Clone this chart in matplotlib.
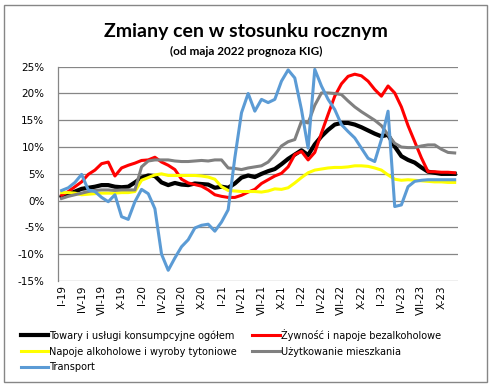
import matplotlib
matplotlib.use("Agg")
import matplotlib.pyplot as plt
from matplotlib.patches import Rectangle
from matplotlib.ticker import FuncFormatter

# monthly y/y changes, I-2019 .. XII-2023 (from May 2022 forecast)
roman = ["I", "II", "III", "IV", "V", "VI", "VII", "VIII", "IX", "X", "XI", "XII"]
years = ["19", "20", "21", "22", "23"]
months = [f"{m}-{y}" for y in years for m in roman]

towary = [0.7, 1.2, 1.7, 2.2, 2.4, 2.6, 2.9, 2.9, 2.6, 2.5, 2.6, 3.4,
          4.3, 4.7, 4.6, 3.4, 2.9, 3.3, 3.0, 2.9, 3.2, 3.1, 3.0, 2.4,
          2.6, 2.4, 3.2, 4.3, 4.7, 4.4, 5.0, 5.5, 5.9, 6.8, 7.8, 8.6,
          9.4, 8.5, 10.5, 12.0, 13.2, 14.2, 14.5, 14.5, 14.2, 13.7, 13.1, 12.5,
          12.0, 12.3, 10.1, 8.3, 7.6, 7.1, 6.2, 5.4, 5.2, 5.0, 5.0, 5.0]

zywnosc = [1.0, 1.7, 2.6, 3.5, 4.9, 5.7, 6.9, 7.2, 4.6, 6.1, 6.6, 7.0,
           7.5, 7.6, 8.1, 7.2, 6.6, 5.8, 4.0, 3.3, 3.0, 2.7, 2.0, 1.1,
           0.8, 0.6, 0.6, 1.0, 1.6, 2.1, 3.2, 3.9, 4.6, 5.1, 6.3, 8.6,
           9.2, 7.6, 9.0, 12.6, 16.1, 19.5, 21.8, 23.2, 23.6, 23.3, 22.3, 20.75,
           19.5, 21.4, 20.1, 17.5, 14.0, 11.0, 8.0, 5.4, 5.4, 5.3, 5.3, 5.2]

napoje = [1.5, 1.5, 1.4, 1.1, 1.2, 1.3, 1.4, 1.4, 1.4, 1.5, 1.5, 1.7,
          3.8, 4.3, 4.8, 5.0, 4.7, 4.7, 4.7, 4.7, 4.7, 4.6, 4.4, 4.0,
          2.6, 1.9, 1.8, 1.7, 1.7, 1.7, 1.6, 1.8, 2.2, 2.1, 2.4, 3.3,
          4.3, 5.2, 5.7, 5.9, 6.1, 6.2, 6.2, 6.3, 6.5, 6.5, 6.4, 6.1,
          5.7, 4.8, 4.0, 3.8, 3.9, 3.8, 3.7, 3.6, 3.5, 3.5, 3.4, 3.4]

mieszkanie = [0.4, 0.8, 1.1, 1.4, 1.7, 1.9, 2.0, 2.0, 1.9, 2.0, 2.0, 2.0,
              6.3, 7.4, 7.6, 7.6, 7.6, 7.4, 7.3, 7.3, 7.4, 7.5, 7.4, 7.6,
              7.6, 6.1, 6.0, 5.8, 6.1, 6.3, 6.5, 7.2, 8.6, 10.2, 11.0, 11.4,
              14.8, 14.5, 17.8, 20.1, 20.1, 20.0, 19.8, 18.6, 17.5, 16.6, 15.8, 15.0,
              14.0, 12.3, 10.7, 10.0, 9.9, 9.9, 10.2, 10.4, 10.4, 9.6, 9.0, 8.9]

transport = [1.9, 2.4, 3.4, 4.9, 2.0, 1.7, 0.6, -0.2, 1.1, -3.0, -3.5, -0.2,
             2.1, 1.3, -1.5, -10.0, -13.0, -10.7, -8.6, -7.3, -5.1, -4.6, -4.4, -5.7,
             -4.0, -1.7, 8.0, 16.4, 20.0, 16.7, 18.9, 18.3, 18.9, 22.3, 24.4, 22.9,
             17.0, 9.8, 24.5, 21.4, 18.9, 17.0, 14.2, 12.9, 11.7, 9.8, 7.9, 7.3,
             11.4, 16.7, -1.1, -0.8, 2.6, 3.6, 3.8, 3.9, 3.9, 3.9, 3.9, 3.9]

series = [
    ("Towary i usługi konsumpcyjne ogółem", towary, "#000000", 3.0),
    ("Żywność i napoje bezalkoholowe", zywnosc, "#FF0000", 2.2),
    ("Napoje alkoholowe i wyroby tytoniowe", napoje, "#FFFF00", 2.2),
    ("Użytkowanie mieszkania", mieszkanie, "#808080", 2.2),
    ("Transport", transport, "#5B9BD5", 2.2),
]

fig = plt.figure(figsize=(4.93, 3.91), dpi=100)
ax = fig.add_axes([58.3 / 493, 1 - 281 / 391, (458 - 58.3) / 493, (281 - 66.7) / 391])

x = list(range(len(months)))
lines = {}
for name, vals, col, lw in series:
    ln, = ax.plot(x, [v / 100 for v in vals], color=col, lw=lw,
                  solid_joinstyle="round", label=name)
    lines[name] = ln

ax.set_xlim(-0.5, len(months) - 0.5)
ax.set_ylim(-0.15, 0.25)
ax.set_yticks([i / 100 for i in range(-15, 26, 5)])
ax.yaxis.set_major_formatter(FuncFormatter(lambda v, p: f"{round(v * 100)}%"))
ax.set_xticks(x[::3])
ax.set_xticklabels(months[::3], rotation=90)
ax.tick_params(axis="both", length=0, labelsize=7.5, colors="black")
ax.tick_params(axis="x", pad=3)
ax.tick_params(axis="y", pad=10)

ax.grid(axis="y", color="#868686", lw=0.9)
ax.set_axisbelow(True)
for s in ["top", "right", "bottom"]:
    ax.spines[s].set_visible(False)
ax.spines["left"].set_color("#868686")
ax.spines["left"].set_linewidth(0.9)

fig.text(0.499, 1 - 31 / 391, "Zmiany cen w stosunku rocznym", ha="center", va="center",
         fontsize=14, fontweight="bold", family="Lato")
fig.text(0.499, 1 - 51 / 391, "(od maja 2022 prognoza KIG)", ha="center", va="center",
         fontsize=8.5, fontweight="bold", family="Lato")

order = ["Towary i usługi konsumpcyjne ogółem", "Napoje alkoholowe i wyroby tytoniowe",
         "Transport", "Żywność i napoje bezalkoholowe", "Użytkowanie mieszkania"]
leg = fig.legend([lines[n] for n in order], order, ncol=2, loc="upper left",
                 bbox_to_anchor=(16 / 493, 1 - 324 / 391), frameon=False,
                 fontsize=7, handlelength=2.8, handletextpad=0.1,
                 columnspacing=1.6, labelspacing=0.6, borderpad=0)

fig.patches.append(Rectangle((4 / 493, 1 - 382 / 391), 483 / 493, 377 / 391,
                             transform=fig.transFigure, fill=False,
                             edgecolor="#868686", lw=1))

fig.savefig("out.png", dpi=100)
